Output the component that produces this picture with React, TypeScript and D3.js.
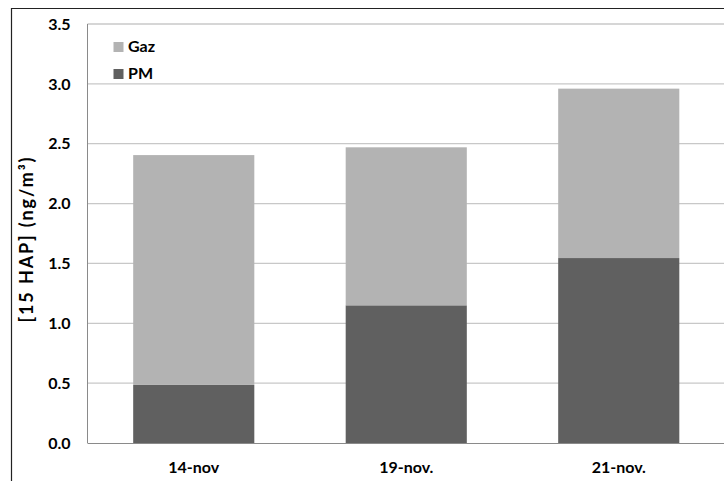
import React from "react";
import * as d3 from "d3";

const categories = ["14-nov", "19-nov.", "21-nov."];
const pmValues = [0.485, 1.15, 1.545];
const gazValues = [1.92, 1.32, 1.415];
const yTicks = [0, 0.5, 1, 1.5, 2, 2.5, 3, 3.5];
const seriesNames = ["Gaz", "PM"];

const W = 724;
const H = 481;
const FONT = "Lato, 'Open Sans', sans-serif";

export default function App() {
  const left = 87.5;
  const right = 725;
  const top = 24;
  const bottom = 443;

  const x = d3
    .scaleBand<string>()
    .domain(categories)
    .range([left, right])
    .paddingInner(0.43)
    .paddingOuter(0.215);
  const y = d3.scaleLinear().domain([0, 3.5]).range([bottom, top]);

  const rows = categories.map((c, i) => ({ cat: c, PM: pmValues[i], Gaz: gazValues[i] }));
  const stack = d3.stack<any>().keys(["PM", "Gaz"]);
  const series = stack(rows);
  const colors: Record<string, string> = { PM: "#606060", Gaz: "#b3b3b3" };

  return (
    <svg
      width={W}
      height={H}
      style={{ position: "absolute", left: 0, top: 0, display: "block", background: "#fff" }}
      fontFamily={FONT}
    >
      <rect x={0} y={0} width={W} height={H} fill="#fff" />
      {/* outer frame (cut off at right/bottom) */}
      <line x1={11.5} y1={8} x2={11.5} y2={H + 2} stroke="#222" strokeWidth={1.2} />
      <line x1={11} y1={8.5} x2={W + 2} y2={8.5} stroke="#222" strokeWidth={1.2} />

      {/* gridlines */}
      {yTicks.map((t) =>
        t === 0 ? null : (
          <line key={t} x1={left} x2={right} y1={y(t)} y2={y(t)} stroke="#c8c8c8" strokeWidth={1.3} />
        )
      )}

      {/* bars */}
      {series.map((s) =>
        s.map((d, i) => (
          <rect
            key={s.key + i}
            x={x(categories[i])!}
            y={y(d[1])}
            width={x.bandwidth()}
            height={y(d[0]) - y(d[1])}
            fill={colors[s.key]}
          />
        ))
      )}

      {/* axes */}
      <line x1={left} x2={left} y1={top} y2={bottom} stroke="#8a8a8a" strokeWidth={1} />
      <line x1={left} x2={right} y1={bottom + 0.5} y2={bottom + 0.5} stroke="#8a8a8a" strokeWidth={1} />

      {/* y tick labels */}
      {yTicks.map((t) => (
        <text
          key={t}
          x={70.5}
          y={y(t)}
          dy="0.36em"
          textAnchor="end"
          fontSize={16}
          fontWeight="bold"
          fill="#000"
        >
          {d3.format(".1f")(t)}
        </text>
      ))}

      {/* x labels */}
      {categories.map((c) => (
        <text
          key={c}
          x={x(c)! + x.bandwidth() / 2}
          y={473}
          textAnchor="middle"
          fontSize={16}
          fontWeight="bold"
          fill="#000"
        >
          {c}
        </text>
      ))}

      {/* y axis title */}
      <text
        transform={`translate(33, 240) rotate(-90)`}
        textAnchor="middle"
        fontSize={18}
        fontWeight="bold"
        fill="#000"
        textLength={165}
        lengthAdjust="spacing"
      >
        [15 HAP] (ng/m³)
      </text>

      {/* legend */}
      {seriesNames.map((n, i) => (
        <g key={n} transform={`translate(113.5, ${42 + i * 27})`}>
          <rect x={0} y={0} width={10} height={10} fill={colors[n]} />
          <text x={14.5} y={9.5} fontSize={16} fontWeight="bold" fill="#000">
            {n}
          </text>
        </g>
      ))}
    </svg>
  );
}
